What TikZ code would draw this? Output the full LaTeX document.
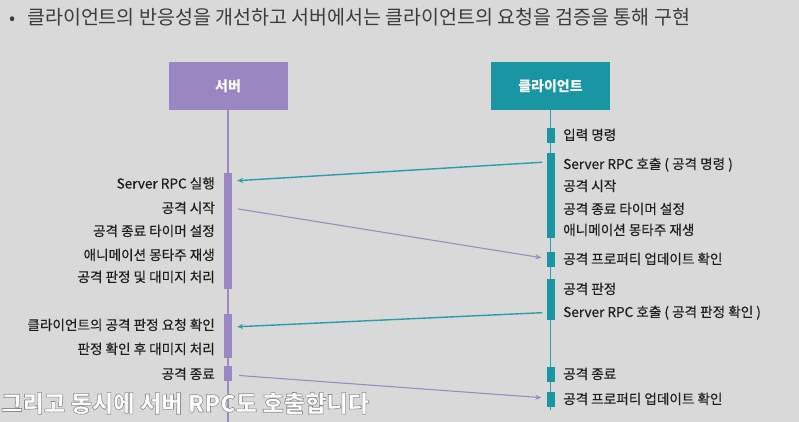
\documentclass[tikz,border=0pt]{standalone}
\usepackage{fontspec}
\setmainfont{Noto Sans CJK KR}
\newfontfamily\lblfont[FakeBold=0.35]{Noto Sans CJK KR}
\usetikzlibrary{arrows.meta,calc}
\definecolor{bg}{HTML}{D9D9D9}
\definecolor{srv}{HTML}{9A86C0}
\definecolor{cli}{HTML}{1A95A4}
\definecolor{srvline}{HTML}{9D8AC3}
\definecolor{cliline}{HTML}{2A9DAA}
\definecolor{txt}{HTML}{1E1E1E}
\definecolor{ttl}{HTML}{3C3C3C}
\begin{document}
\begin{tikzpicture}[x=1pt,y=-1pt,
  lbl/.style={font=\lblfont\fontsize{13.6}{15}\selectfont, text=txt, inner sep=0pt},
  lleft/.style={lbl, anchor=base east},
  lright/.style={lbl, anchor=base west},
  headbox/.style={minimum width=119pt, minimum height=48pt, inner sep=0pt, text=white, font=\fontsize{14}{16}\selectfont\bfseries},
  sbar/.style={fill=srv, draw=none, minimum width=8pt, inner sep=0pt},
  cbar/.style={fill=cli, draw=none, minimum width=8pt, inner sep=0pt},
  sline/.style={draw=srvline, line width=1.5pt},
  cline/.style={draw=cliline, line width=1.5pt},
  smsg/.style={draw=srvline, line width=1.1pt, -{Stealth[length=6pt,width=5pt]}},
  cmsg/.style={draw=cliline, line width=1.4pt, -{Stealth[length=6pt,width=5pt]}},
]
\fill[bg] (0,0) rectangle (799,422);
\useasboundingbox (0,0) rectangle (799,422);

% title
\node[text=ttl, font=\fontsize{18}{20}\selectfont, inner sep=0pt, anchor=base west] (bul) at (9,25) {•};
\node[text=ttl, font=\fontsize{19.5}{21}\selectfont, inner sep=0pt, anchor=base west] (title) at (27,25) {클라이언트의 반응성을 개선하고 서버에서는 클라이언트의 요청을 검증을 통해 구현};

% heads
\node[headbox, fill=srv] (srvbox) at (228,86) {서버};
\node[headbox, fill=cli] (clibox) at (550.5,86) {클라이언트};

\coordinate (sEnd) at (228,422);
\coordinate (cEnd) at (550.5,410);
\draw[sline] (srvbox.south) -- (sEnd);
\draw[cline] (clibox.south) -- (cEnd);

% server activation bars
\node[sbar, minimum height=116pt] (s1) at (228,230.5) {};
\node[sbar, minimum height=44pt] (s2) at (228,336) {};
\node[sbar, minimum height=15pt] (s3) at (228,373.5) {};

% client activation bars
\node[cbar, minimum height=15pt] (c1) at (550.5,135.5) {};
\node[cbar, minimum height=85pt] (c2) at (550.5,195.5) {};
\node[cbar, minimum height=15pt] (c3) at (550.5,259.5) {};
\node[cbar, minimum height=41pt] (c4) at (550.5,299.5) {};
\node[cbar, minimum height=15pt] (c5) at (550.5,374.5) {};
\node[cbar, minimum height=15pt] (c6) at (550.5,399.5) {};

% messages
\draw[cmsg, shorten <=4pt, shorten >=5pt] (c2.west |- 0,162) -- (s1.east |- 0,181);
\draw[smsg, shorten <=6pt, shorten >=5pt] (s1.east |- 0,208) -- (c3.west |- 0,258.5);
\draw[cmsg, shorten <=4pt, shorten >=5pt] (c4.west |- 0,312.5) -- (s2.east |- 0,327);
\draw[smsg, shorten <=7pt, shorten >=5pt] (s3.east |- 0,375) -- (c6.west |- 0,398);

% server labels
\node[lleft] (l1) at (215,188.5) {Server RPC 실행};
\node[lleft] (l2) at (215,213) {공격 시작};
\node[lleft] (l3) at (215,236) {공격 종료 타이머 설정};
\node[lleft] (l4) at (215,260) {애니메이션 몽타주 재생};
\node[lleft] (l5) at (215,282) {공격 판정 및 대미지 처리};
\node[lleft] (l6) at (215,330) {클라이언트의 공격 판정 요청 확인};
\node[lleft] (l7) at (215,354) {판정 확인 후 대미지 처리};
\node[lleft] (l8) at (215,379) {공격 종료};

% client labels
\node[lright] (r1) at (563,140) {입력 명령};
\node[lright] (r2) at (563,169) {Server RPC 호출 ( 공격 명령 )};
\node[lright] (r3) at (563,191) {공격 시작};
\node[lright] (r4) at (563,214) {공격 종료 타이머 설정};
\node[lright] (r5) at (563,235) {애니메이션 몽타주 재생};
\node[lright] (r6) at (563,264) {공격 프로퍼티 업데이트 확인};
\node[lright] (r7) at (563,294) {공격 판정};
\node[lright] (r8) at (563,317) {Server RPC 호출 ( 공격 판정 확인 )};
\node[lright] (r9) at (563,379) {공격 종료};
\node[lright] (r10) at (563,404) {공격 프로퍼티 업데이트 확인};

% caption
\node[text=white, font=\fontsize{23.2}{26}\selectfont\bfseries, inner sep=0pt, anchor=base west] (cap) at (1,412)
  {\special{pdf:literal 2 Tr 0.6 w 0.55 0.55 0.55 RG}그리고 동시에 서버 RPC도 호출합니다\special{pdf:literal 0 Tr}};
\end{tikzpicture}
\end{document}
